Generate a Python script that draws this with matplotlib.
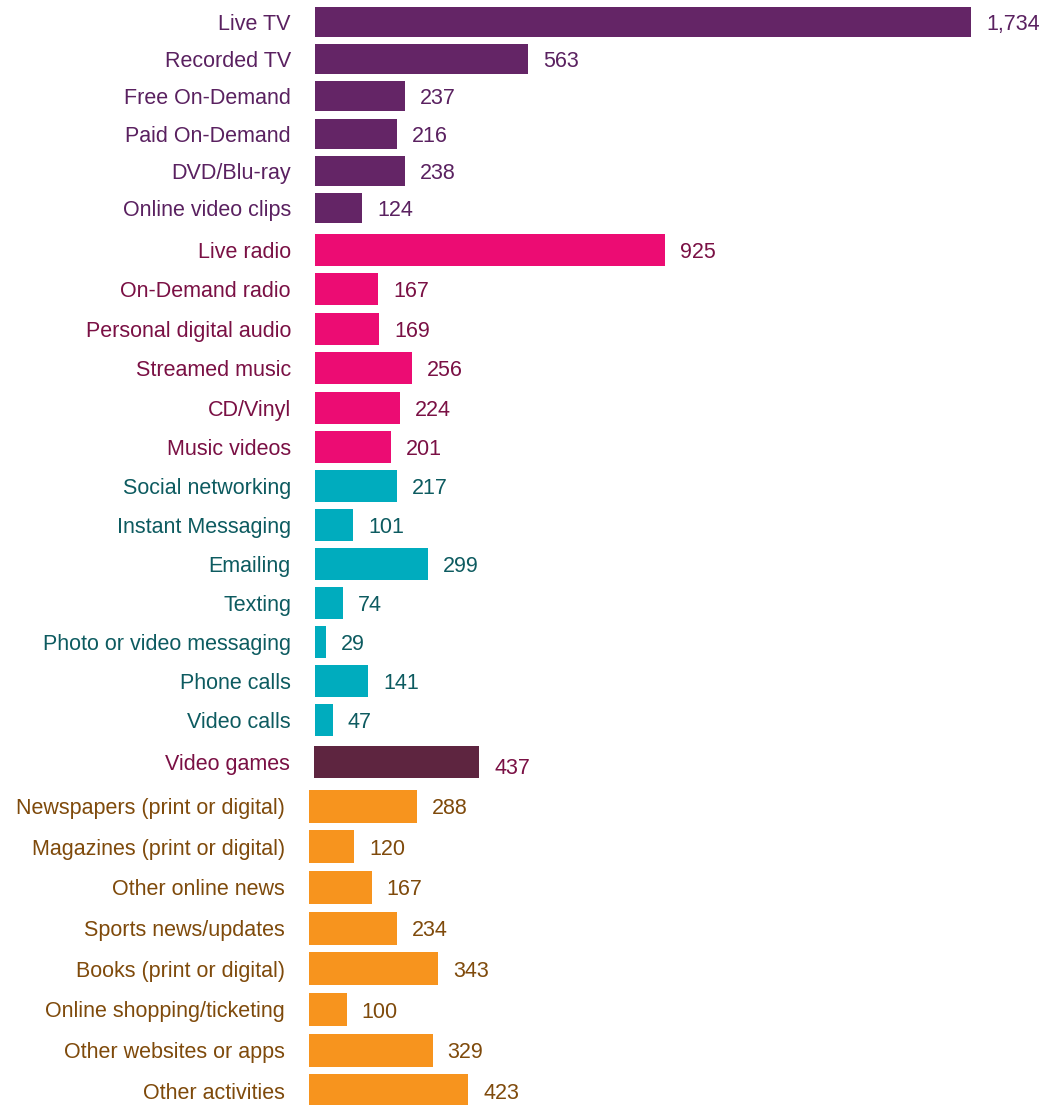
import matplotlib.pyplot as plt
import numpy as np

# ---- data ----
tv_labels = ["Live TV", "Recorded TV", "Free On-Demand", "Paid On-Demand",
             "DVD/Blu-ray", "Online video clips"]
tv_values = [1734, 563, 237, 216, 238, 124]

audio_labels = ["Live radio", "On-Demand radio", "Personal digital audio",
                "Streamed music", "CD/Vinyl", "Music videos"]
audio_values = [925, 167, 169, 256, 224, 201]

comm_labels = ["Social networking", "Instant Messaging", "Emailing", "Texting",
               "Photo or video messaging", "Phone calls", "Video calls"]
comm_values = [217, 101, 299, 74, 29, 141, 47]

games_labels = ["Video games"]
games_values = [437]

other_labels = ["Newspapers (print or digital)", "Magazines (print or digital)",
                "Other online news", "Sports news/updates", "Books (print or digital)",
                "Online shopping/ticketing", "Other websites or apps", "Other activities"]
other_values = [288, 120, 167, 234, 343, 100, 329, 423]

plt.rcParams['font.family'] = ['Liberation Sans', 'DejaVu Sans']

W, H = 1045, 1105
fig = plt.figure(figsize=(W / 100, H / 100), dpi=100)

# group: labels, values, bar colour, text colour, left px, first centre, step, px per unit, bar height px
groups = [
    (tv_labels, tv_values, "#642566", "#5a2160", 315, 22, 37.2, 0.3783, 30),
    (audio_labels, audio_values, "#ec0c73", "#7a1044", 315, 250, 39.4, 0.3783, 32),
    (comm_labels, comm_values, "#00acbe", "#0d5b60", 315, 486, 39.0, 0.3783, 32),
    (games_labels, games_values, "#5e2540", "#7a1044", 314, 762, 40.0, 0.3783, 32),
    (other_labels, other_values, "#f7941e", "#7f4a0b", 309, 806, 40.7, 0.376, 33),
]

for labels, values, bar_col, txt_col, left, c0, step, scale, bh in groups:
    n = len(values)
    top = c0 - step / 2
    height = step * n
    ax = fig.add_axes([left / W, 1 - (top + height) / H, (W - left) / W, height / H])
    y = np.arange(n)
    ax.barh(y, values, height=bh / step, color=bar_col, left=0)
    ax.set_ylim(n - 0.5, -0.5)
    ax.set_xlim(0, (W - left) / scale)
    dy = 2.5 / step  # nudge text down so caps sit on the bar centre
    off = 6 / step if labels is games_labels else dy
    for yi, (lab, v) in enumerate(zip(labels, values)):
        ax.text(-24 / scale, yi + dy, lab, ha='right', va='center', color=txt_col, fontsize=15.5)
        ax.text(v + 15 / scale, yi + off, f"{v:,}", ha='left', va='center',
                color=txt_col, fontsize=15.5)
    ax.axis('off')

fig.savefig("out.png", dpi=100)
